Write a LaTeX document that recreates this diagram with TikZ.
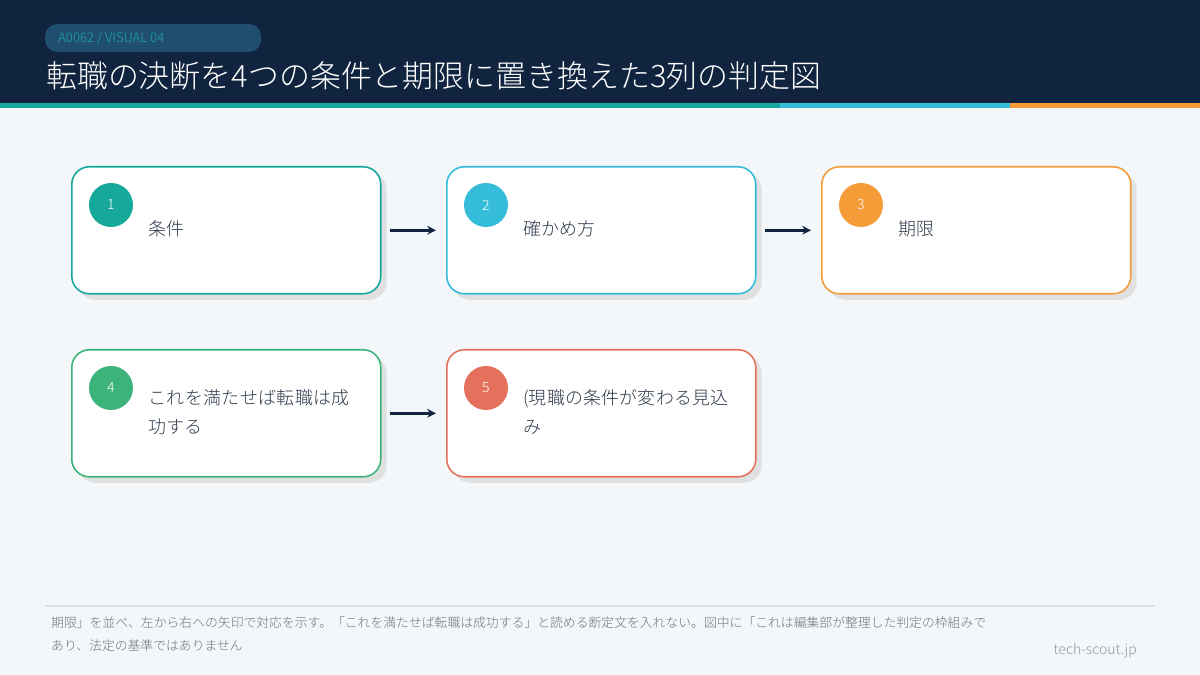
\documentclass[tikz,border=0pt]{standalone}
\usepackage{fontspec}
\setmainfont{Noto Sans CJK JP}[UprightFont=* Light]
\XeTeXlinebreaklocale "ja"
\XeTeXlinebreakskip=0pt plus 1pt
\usetikzlibrary{positioning, arrows.meta, shadows}
\definecolor{navy}{HTML}{10243F}
\definecolor{pill}{HTML}{1F4E6E}
\definecolor{teal}{HTML}{17A89C}
\definecolor{cyan}{HTML}{35BCD9}
\definecolor{orange}{HTML}{F39C38}
\definecolor{green}{HTML}{3BB37A}
\definecolor{coral}{HTML}{E5705B}
\definecolor{bg}{HTML}{F3F7FA}
\definecolor{txt}{HTML}{2D3A4A}
\tikzset{
  card/.style={draw=#1, line width=0.9pt, fill=white, rounded corners=10pt,
    minimum width=6.18cm, minimum height=2.54cm, anchor=north west,
    drop shadow={shadow xshift=0.12cm, shadow yshift=-0.12cm, fill=black!12, opacity=1}},
  num/.style={circle, fill=#1, minimum size=0.88cm, text=white, font=\fontsize{8}{9}\selectfont},
  label/.style={anchor=west, text=txt, font=\fontsize{10.2}{16.5}\selectfont, align=left, text width=4.2cm, inner sep=0pt},
  link/.style={navy, line width=1.6pt, -{Stealth[length=5pt,width=5pt]}, shorten <=0.16cm, shorten >=0.2cm}
}
\begin{document}
\begin{tikzpicture}[x=0.02cm, y=-0.02cm]
\fill[bg] (0,0) rectangle (1200,675);
\fill[navy] (0,0) rectangle (1200,103);
\fill[teal] (0,103) rectangle (780,108);
\fill[cyan] (780,103) rectangle (1010,108);
\fill[orange] (1010,103) rectangle (1200,108);
\fill[pill, rounded corners=7pt] (45,24) rectangle (261,52);
\node[anchor=west, text=teal!80!cyan, font=\fontsize{7.5}{9}\selectfont] (tag) at (52,38) {A0062 / VISUAL 04};
\node[anchor=west, text=white, font=\fontsize{17.6}{20}\selectfont] (title) at (40,76) {転職の決断を4つの条件と期限に置き換えた3列の判定図};

% cards
\node[card=teal] (c1) at (71,166) {};
\node[card=cyan] (c2) at (446,166) {};
\node[card=orange] (c3) at (821,166) {};
\node[card=green] (c4) at (71,349) {};
\node[card=coral] (c5) at (446,349) {};
\foreach \n/\col/\t in {1/teal/条件, 2/cyan/確かめ方, 3/orange/期限,
    4/green/これを満たせば転職は成功する, 5/coral/(現職の条件が変わる見込み} {
  \node[num=\col] (n\n) at ([xshift=0.8cm, yshift=-0.78cm]c\n.north west) {\n};
  \node[label] (t\n) at ([xshift=1.54cm, yshift=-1.26cm]c\n.north west) {\t};
}
\draw[link] (c1) -- (c2);
\draw[link] (c2) -- (c3);
\draw[link] (c4) -- (c5);

% footer
\draw[black!12, line width=1.2pt] (45,606) -- (1155,606);
\node[anchor=west, text=black!55, font=\fontsize{7.3}{13}\selectfont, align=left] (note) at (45,634)
  {期限」を並べ、左から右への矢印で対応を示す。「これを満たせば転職は成功する」と読める断定文を入れない。図中に「これは編集部が整理した判定の枠組みで\\あり、法定の基準ではありません};
\node[anchor=east, text=black!40, font=\fontsize{8}{10}\selectfont] (site) at (1143,651) {tech-scout.jp};
\end{tikzpicture}
\end{document}
